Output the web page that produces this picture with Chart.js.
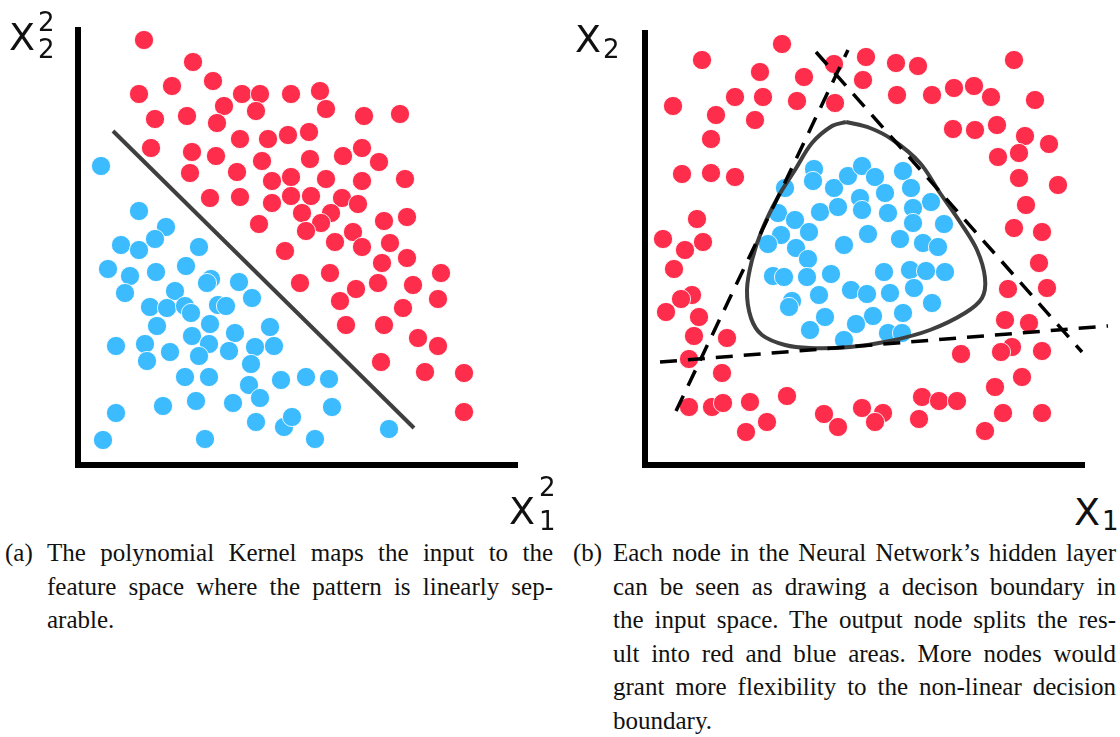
<!DOCTYPE html>
<html><head><meta charset="utf-8">
<script src="https://cdn.jsdelivr.net/npm/chart.js@4.4.1/dist/chart.umd.min.js"></script>
<style>
body{margin:0;width:1120px;height:737px;background:#fff;position:relative;overflow:hidden}
.cw{position:absolute;top:0;width:560px;height:490px}
.cw canvas{display:block}
.lab{position:absolute;font-family:"DejaVu Sans",sans-serif;line-height:1;color:#111;white-space:nowrap}
.big{font-size:38px}
.sm{font-size:26px}
.cap{position:absolute;font-family:"Liberation Serif","Times New Roman",serif;font-size:25px;line-height:33.5px;color:#111}
.cap div{text-align:justify;text-align-last:justify}
.cap div.last{text-align-last:left}
</style></head><body>
<div class="cw" style="left:0"><canvas id="ca" width="560" height="490"></canvas></div>
<div class="cw" style="left:560px"><canvas id="cb" width="560" height="490"></canvas></div>

<div class="lab big" style="left:9px;top:18px">X</div>
<div class="lab sm" style="left:38px;top:9px">2</div>
<div class="lab sm" style="left:38px;top:36px">2</div>

<div class="lab big" style="left:509px;top:492px">X</div>
<div class="lab sm" style="left:539px;top:474px">2</div>
<div class="lab sm" style="left:539px;top:508px">1</div>

<div class="lab big" style="left:575px;top:20px">X</div>
<div class="lab sm" style="left:603px;top:36px">2</div>

<div class="lab big" style="left:1074px;top:493px">X</div>
<div class="lab sm" style="left:1102px;top:508px">1</div>

<div class="cap" style="left:5px;top:536px">(a)</div>
<div class="cap" style="left:47px;top:536px;width:506px">
<div>The polynomial Kernel maps the input to the</div>
<div>feature space where the pattern is linearly sep-</div>
<div class="last">arable.</div>
</div>
<div class="cap" style="left:573px;top:536px">(b)</div>
<div class="cap" style="left:613px;top:536px;width:503px">
<div>Each node in the Neural Network’s hidden layer</div>
<div>can be seen as drawing a decison boundary in</div>
<div>the input space. The output node splits the res-</div>
<div>ult into red and blue areas. More nodes would</div>
<div>grant more flexibility to the non-linear decision</div>
<div class="last">boundary.</div>
</div>

<script>
// Values: x = distance right of the vertical axis, y = height above the horizontal axis
const kernelRedX = [66,115,94,135,61,164,182,213,146,178,77,109,139,162,190,210,73,114,138,184,112,159,194,213,132,162,194,213,181,207,242,248,286,322,231,232,265,284,301,248,284,327,233,264,280,224,253,243,228,275,306,329,257,284,312,329,304,363,252,222,300,335,278,360,262,325,268,306,340,360,303,347,386,386];
const kernelRedY = [425,403,379,384,371,371,371,371,359,354,346,349,342,326,326,330,317,313,309,304,292,293,284,288,267,268,262,269,241,214,374,356,349,351,333,306,309,317,303,286,284,286,269,267,261,252,252,242,234,233,244,248,223,218,222,207,202,192,192,182,182,180,176,166,164,157,140,140,127,119,103,93,92,53];
const kernelBlueX = [23,61,88,77,43,61,121,30,52,78,108,133,129,161,47,97,174,72,89,107,113,140,148,79,132,114,157,192,38,67,92,131,121,151,177,196,69,173,107,131,171,203,85,118,155,182,38,178,206,214,25,127,228,251,254,237,311];
const kernelBlueY = [299,254,238,226,220,215,218,196,189,193,199,186,182,183,172,174,167,158,157,159,152,160,159,139,141,129,132,138,119,121,113,121,109,114,118,119,104,101,88,88,80,85,59,64,62,67,52,43,38,48,25,26,88,86,58,26,36];
const kernelLineX = [35,336];
const kernelLineY = [334,37];

const nnRedX = [137,57,115,159,189,221,218,28,90,118,152,190,71,110,66,37,66,90,251,273,369,252,287,309,329,346,390,308,330,352,380,404,353,374,374,413,381,369,397,394,363,402,360,384,367,356,397,316,377,350,277,294,312,217,238,230,274,358,397,340,52,18,40,58,29,47,36,21,54,49,82,44,77,44,67,78,105,142,122,101,179,193];
const nnRedY = [421,405,393,388,401,408,385,359,368,368,364,362,350,345,326,291,292,288,402,399,405,370,370,377,379,368,365,336,335,340,329,321,308,312,287,280,260,237,233,202,176,177,145,142,118,113,114,111,88,78,68,64,64,57,52,43,46,52,52,34,246,226,215,223,196,170,166,153,148,129,127,106,92,58,58,62,63,69,43,33,51,38];
const nnBlueX = [140,169,168,189,203,217,215,230,258,266,240,286,133,150,175,193,217,243,268,268,299,136,123,164,151,199,223,255,278,293,163,128,139,162,186,239,265,281,300,206,222,174,245,269,287,147,144,180,228,258,165,211,199,243,257];
const nnBlueY = [277,296,284,277,289,299,267,288,294,277,272,263,252,245,253,258,255,252,257,242,241,230,221,233,217,220,231,226,222,218,206,189,188,188,191,193,195,194,193,175,171,170,172,177,162,164,158,148,149,152,135,141,125,132,132];
// hidden-layer boundaries (dashed) and output boundary (solid)
const nnLine1X = [31,203], nnLine1Y = [54,415];
const nnLine2X = [171,437], nnLine2Y = [413,113];
const nnLine3X = [15,463], nnLine3Y = [103,139];
const nnCurveX = [201,225,248,275,295,315,332,340,337,320,285,245,205,165,140,117,106,102,107,117,133,150,167,187,201];
const nnCurveY = [343,337,325,302,272,243,215,187,167,152,135,124,118,117,120,130,147,175,205,235,268,295,322,339,343];
// axis extents
const axisA = {xEnd:440, yEnd:438};
const axisB = {xEnd:440, yEnd:435};

const RED = '#FE2D4B', BLUE = '#3CBCFE', LINE = '#3f3f3f';
const pts = (xs, ys) => xs.map((x, i) => ({x, y: ys[i]}));

function scatter(xs, ys, color){
  return {data: pts(xs, ys), backgroundColor: color, borderColor: 'rgba(255,255,255,0.85)', borderWidth: 1,
          pointRadius: 9.6, pointHoverRadius: 9.6, order: 2, clip: false};
}
function line(xs, ys, color, width, dash, tension){
  return {data: pts(xs, ys), showLine: true, borderColor: color, borderWidth: width, borderDash: dash || [],
          pointRadius: 0, tension: tension || 0, fill: false, order: 1, clip: false, borderCapStyle: 'butt'};
}
function axes(ax){
  return [
    line([0,0], [-3, ax.yEnd], '#000', 6),
    line([-3, ax.xEnd], [0,0], '#000', 6)
  ].map(d => (d.order = 0, d));
}
function make(id, datasets, xmin, xmax, ymin, ymax){
  new Chart(document.getElementById(id), {
    type: 'scatter',
    data: {datasets},
    options: {
      responsive: false, animation: false, events: [],
      layout: {padding: 0, autoPadding: false},
      plugins: {legend: {display: false}, tooltip: {enabled: false}},
      scales: {
        x: {type: 'linear', display: false, min: xmin, max: xmax},
        y: {type: 'linear', display: false, min: ymin, max: ymax}
      }
    }
  });
}

make('ca', [
  ...axes(axisA),
  line(kernelLineX, kernelLineY, LINE, 4),
  scatter(kernelRedX, kernelRedY, RED),
  scatter(kernelBlueX, kernelBlueY, BLUE)
], -78, 482, -25, 465);

make('cb', [
  ...axes(axisB),
  line(nnLine1X, nnLine1Y, '#000', 3.5, [17, 11]),
  line(nnLine2X, nnLine2Y, '#000', 3.5, [17, 11]),
  line(nnLine3X, nnLine3Y, '#000', 3.5, [17, 11]),
  line(nnCurveX, nnCurveY, LINE, 4, null, 0.35),
  scatter(nnRedX, nnRedY, RED),
  scatter(nnBlueX, nnBlueY, BLUE)
], -85, 475, -25, 465);
</script>
</body></html>
